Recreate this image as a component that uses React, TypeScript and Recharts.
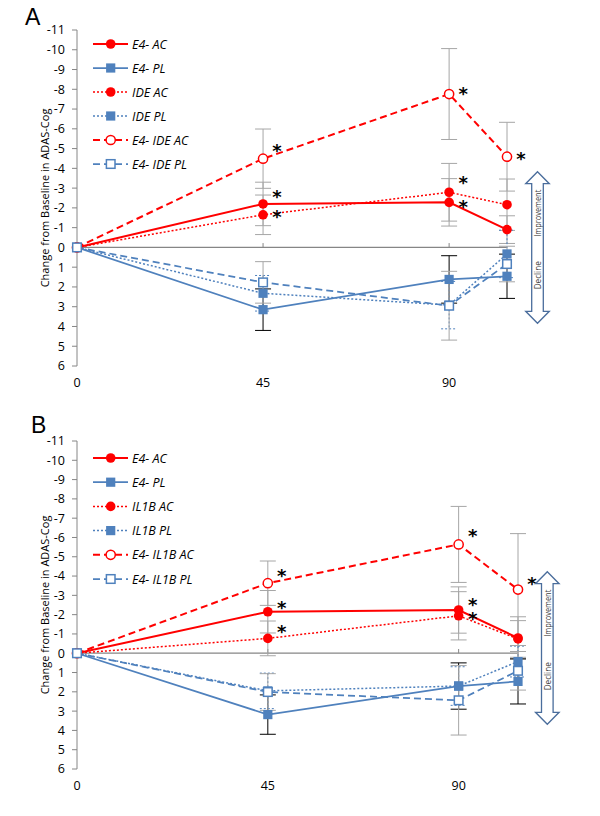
import React from "react";
import { ComposedChart, Line, XAxis, YAxis, ErrorBar, ReferenceLine } from "recharts";

// x positions (weeks) and axis ticks
const WEEKS = [0, 45, 90, 104];
const X_TICKS = [0, 45, 90];
const Y_TICKS = [-11, -10, -9, -8, -7, -6, -5, -4, -3, -2, -1, 0, 1, 2, 3, 4, 5, 6];
const Y_LABEL = "Change from Baseline in ADAS-Cog";

// Panel A values (negative = improvement)
const A_E4_AC = [0, -2.2, -2.28, -0.9];
const A_E4_AC_ERR = [null, 1.1, 1.2, 0.7];
const A_E4_PL = [0, 3.15, 1.62, 1.46];
const A_E4_PL_ERR = [null, 1.05, 1.2, 1.12];
const A_IDE_AC = [0, -1.65, -2.79, -2.16];
const A_IDE_AC_ERR = [null, 1.0, 1.46, 1.3];
const A_IDE_PL = [0, 2.32, 2.92, 0.33];
const A_IDE_PL_ERR = [null, 0.9, 1.2, 1.2];
const A_E4IDE_AC = [0, -4.49, -7.76, -4.59];
const A_E4IDE_AC_ERR = [null, 1.5, 2.3, 1.74];
const A_E4IDE_PL = [0, 1.77, 2.95, 0.84];
const A_E4IDE_PL_ERR = [null, 1.05, 1.74, 0.9];

// Panel B values
const B_E4_AC = [0, -2.15, -2.24, -0.79];
const B_E4_AC_ERR = [null, 1.1, 1.2, 1.1];
const B_E4_PL = [0, 3.18, 1.7, 1.46];
const B_E4_PL_ERR = [null, 1.02, 1.2, 1.17];
const B_IL1B_AC = [0, -0.77, -1.94, -0.74];
const B_IL1B_AC_ERR = [null, 0.9, 1.25, 0.95];
const B_IL1B_PL = [0, 1.95, 1.7, 0.43];
const B_IL1B_PL_ERR = [null, 0.92, 1.0, 0.8];
const B_E4IL1B_AC = [0, -3.63, -5.64, -3.3];
const B_E4IL1B_AC_ERR = [null, 1.15, 1.97, 2.9];
const B_E4IL1B_PL = [0, 2.01, 2.44, 0.91];
const B_E4IL1B_PL_ERR = [null, 0.95, 1.8, 1.0];

// significance marks (1 = asterisk)
const A_E4_AC_SIG = [0, 1, 1, 0];
const A_IDE_AC_SIG = [0, 1, 1, 0];
const A_E4IDE_AC_SIG = [0, 1, 1, 1];
const B_E4_AC_SIG = [0, 1, 1, 0];
const B_IL1B_AC_SIG = [0, 1, 1, 0];
const B_E4IL1B_AC_SIG = [0, 1, 1, 1];

const RED = "#ff0000";
const BLUE = "#4f81bd";
const AXIS_GREY = "#868686";
const ERR_GREY = "#a6a6a6";
const DOTTED = "2 2";
const DASHED = "7 4";

type Series = {
  key: string;
  name: string;
  values: number[];
  errors: (number | null)[];
  color: string;
  width: number;
  dash?: string;
  marker: "circle" | "square";
  open: boolean;
  errColor: string;
  errDash?: string;
  sig?: number[];
  sigDy?: number[];
};

const acStyle = (color: string) => ({ color, marker: "circle" as const });
const plStyle = (color: string) => ({ color, marker: "square" as const });

const seriesA: Series[] = [
  { key: "e4ac", name: "E4- AC", values: A_E4_AC, errors: A_E4_AC_ERR, ...acStyle(RED), width: 2, open: false, errColor: ERR_GREY, sig: A_E4_AC_SIG, sigDy: [0, -11, 1, 0] },
  { key: "e4pl", name: "E4- PL", values: A_E4_PL, errors: A_E4_PL_ERR, ...plStyle(BLUE), width: 1.75, open: false, errColor: "#000" },
  { key: "ac", name: "IDE AC", values: A_IDE_AC, errors: A_IDE_AC_ERR, ...acStyle(RED), width: 1.5, dash: DOTTED, open: false, errColor: ERR_GREY, sig: A_IDE_AC_SIG, sigDy: [0, -2, -13, 0] },
  { key: "pl", name: "IDE PL", values: A_IDE_PL, errors: A_IDE_PL_ERR, ...plStyle(BLUE), width: 1.5, dash: DOTTED, open: false, errColor: BLUE, errDash: DOTTED },
  { key: "e4xac", name: "E4- IDE AC", values: A_E4IDE_AC, errors: A_E4IDE_AC_ERR, ...acStyle(RED), width: 2, dash: DASHED, open: true, errColor: ERR_GREY, sig: A_E4IDE_AC_SIG, sigDy: [0, -12, -4, -2] },
  { key: "e4xpl", name: "E4- IDE PL", values: A_E4IDE_PL, errors: A_E4IDE_PL_ERR, ...plStyle(BLUE), width: 1.75, dash: DASHED, open: true, errColor: ERR_GREY },
];

const seriesB: Series[] = [
  { key: "e4ac", name: "E4- AC", values: B_E4_AC, errors: B_E4_AC_ERR, ...acStyle(RED), width: 2, open: false, errColor: ERR_GREY, sig: B_E4_AC_SIG, sigDy: [0, -8, -9, 0] },
  { key: "e4pl", name: "E4- PL", values: B_E4_PL, errors: B_E4_PL_ERR, ...plStyle(BLUE), width: 1.75, open: false, errColor: "#000" },
  { key: "ac", name: "IL1B AC", values: B_IL1B_AC, errors: B_IL1B_AC_ERR, ...acStyle(RED), width: 1.5, dash: DOTTED, open: false, errColor: ERR_GREY, sig: B_IL1B_AC_SIG, sigDy: [0, -10, -1, 0] },
  { key: "pl", name: "IL1B PL", values: B_IL1B_PL, errors: B_IL1B_PL_ERR, ...plStyle(BLUE), width: 1.5, dash: DOTTED, open: false, errColor: BLUE, errDash: DOTTED },
  { key: "e4xac", name: "E4- IL1B AC", values: B_E4IL1B_AC, errors: B_E4IL1B_AC_ERR, ...acStyle(RED), width: 2, dash: DASHED, open: true, errColor: ERR_GREY, sig: B_E4IL1B_AC_SIG, sigDy: [0, -11, -12, -10] },
  { key: "e4xpl", name: "E4- IL1B PL", values: B_E4IL1B_PL, errors: B_E4IL1B_PL_ERR, ...plStyle(BLUE), width: 1.75, dash: DASHED, open: true, errColor: ERR_GREY },
];

function Marker({ s, cx, cy }: { s: Series; cx: number; cy: number }) {
  const fill = s.open ? "#fff" : s.color;
  const sw = s.open ? 1.5 : 0;
  if (s.marker === "circle") {
    return <circle cx={cx} cy={cy} r={s.open ? 4.6 : 4.8} fill={fill} stroke={s.color} strokeWidth={sw} />;
  }
  const h = s.open ? 4.3 : 4.6;
  return <rect x={cx - h} y={cy - h} width={h * 2} height={h * 2} fill={fill} stroke={s.color} strokeWidth={sw} />;
}

const renderDot = (s: Series) => (p: any) => {
  const { cx, cy, index } = p;
  const k = `${s.key}-${index}`;
  if (cx == null || cy == null) return <g key={k} />;
  const star = s.sig && s.sig[index];
  const dy = (s.sigDy && s.sigDy[index]) || 0;
  return (
    <g key={k}>
      <Marker s={s} cx={cx} cy={cy} />
      {star ? (
        <text
          x={cx + 14}
          y={cy + dy + 10}
          textAnchor="middle"
          fontSize={18}
          fontWeight="bold"
          fontFamily="DejaVu Sans"
          fill="#000"
        >
          *
        </text>
      ) : null}
    </g>
  );
};

function DoubleArrow({ cx, top, bottom }: { cx: number; top: number; bottom: number }) {
  const hw = 11.8;
  const sw = 5.8;
  const hh = 12;
  const d = [
    `M${cx},${top}`,
    `L${cx + hw},${top + hh}`,
    `L${cx + sw},${top + hh}`,
    `L${cx + sw},${bottom - hh}`,
    `L${cx + hw},${bottom - hh}`,
    `L${cx},${bottom}`,
    `L${cx - hw},${bottom - hh}`,
    `L${cx - sw},${bottom - hh}`,
    `L${cx - sw},${top + hh}`,
    `L${cx - hw},${top + hh}`,
    "Z",
  ].join(" ");
  const improveY = top + 41.5;
  const declineY = bottom - 48;
  return (
    <g>
      <path d={d} fill="#fff" stroke="#4a6d9c" strokeWidth={1.3} strokeLinejoin="miter" />
      <text
        x={cx}
        y={improveY}
        transform={`rotate(-90 ${cx} ${improveY})`}
        textAnchor="middle"
        dominantBaseline="central"
        fontSize={9}
        fill="#404040"
        textLength={47}
        lengthAdjust="spacingAndGlyphs"
      >
        Improvement
      </text>
      <text
        x={cx}
        y={declineY}
        transform={`rotate(-90 ${cx} ${declineY})`}
        textAnchor="middle"
        dominantBaseline="central"
        fontSize={9}
        fill="#404040"
        textLength={28}
        lengthAdjust="spacingAndGlyphs"
      >
        Decline
      </text>
    </g>
  );
}

type PanelProps = {
  letter: string;
  letterX: number;
  series: Series[];
  margin: { top: number; right: number; bottom: number; left: number };
  legendTop: number;
  legendStep: number;
  arrow: { cx: number; top: number; bottom: number };
};

function Panel({ letter, letterX, series, margin, legendTop, legendStep, arrow }: PanelProps) {
  const data = WEEKS.map((w, i) => {
    const row: Record<string, number | null> = { week: w };
    series.forEach((s) => {
      row[s.key] = s.values[i];
      row[s.key + "Err"] = s.errors[i];
    });
    return row;
  });

  return (
    <div style={{ position: "relative", width: 600, height: 408 }}>
      <ComposedChart width={600} height={408} data={data} margin={margin}>
        <XAxis
          dataKey="week"
          type="number"
          domain={[0, 104]}
          ticks={X_TICKS}
          axisLine={false}
          tickLine={false}
          tickMargin={6}
          height={30}
          tick={{ fontSize: 12.5, fill: "#000" }}
        />
        <YAxis
          type="number"
          domain={[-11, 6]}
          ticks={Y_TICKS}
          interval={0}
          reversed
          width={64}
          stroke={AXIS_GREY}
          tickSize={5}
          tickMargin={7}
          tick={{ fontSize: 12.5, fill: "#000" }}
          label={{ value: Y_LABEL, angle: -90, position: "center", style: { fontSize: 11, fill: "#000" } }}
        />
        <ReferenceLine y={0} stroke={AXIS_GREY} strokeWidth={1.25} />
        {X_TICKS.slice(1).map((t) => (
          <ReferenceLine
            key={`tick-${t}`}
            segment={[
              { x: t, y: 0 },
              { x: t, y: -0.22 },
            ]}
            stroke={AXIS_GREY}
          />
        ))}
        {series.map((s) => (
          <Line
            key={s.key}
            dataKey={s.key}
            name={s.name}
            type="linear"
            stroke={s.color}
            strokeWidth={s.width}
            strokeDasharray={s.dash}
            dot={renderDot(s)}
            activeDot={false}
            isAnimationActive={false}
          >
            <ErrorBar
              dataKey={s.key + "Err"}
              width={8}
              stroke={s.errColor}
              strokeWidth={1}
              strokeDasharray={s.errDash}
              direction="y"
            />
          </Line>
        ))}
      </ComposedChart>
      <svg
        width={600}
        height={408}
        style={{ position: "absolute", left: 0, top: 0, pointerEvents: "none" }}
      >
        <text x={letterX} y={24.5} fontSize={23} fontFamily="Liberation Sans, Arial, sans-serif" fill="#000">
          {letter}
        </text>
        {series.map((s, i) => {
          const y = legendTop + i * legendStep;
          return (
            <g key={`lg-${s.key}`}>
              <line x1={93} x2={128} y1={y} y2={y} stroke={s.color} strokeWidth={s.width} strokeDasharray={s.dash} />
              <Marker s={s} cx={110.7} cy={y} />
              <text
                x={132}
                y={y}
                dominantBaseline="central"
                fontSize={12.5}
                fontStyle="italic"
                fontFamily="'Open Sans', sans-serif"
                fill="#000"
              >
                {s.name}
              </text>
            </g>
          );
        })}
        <DoubleArrow cx={arrow.cx} top={arrow.top} bottom={arrow.bottom} />
      </svg>
    </div>
  );
}

export default function App() {
  return (
    <div style={{ width: 600, height: 816, background: "#fff", fontFamily: "'Open Sans', sans-serif" }}>
      <style>{`body{margin:0}`}</style>
      <Panel
        letter="A"
        letterX={25}
        series={seriesA}
        margin={{ top: 30, right: 93, bottom: 12, left: 13 }}
        legendTop={44}
        legendStep={24}
        arrow={{ cx: 537.5, top: 171.7, bottom: 323.3 }}
      />
      <Panel
        letter="B"
        letterX={31}
        series={seriesB}
        margin={{ top: 33, right: 82, bottom: 17, left: 13 }}
        legendTop={50}
        legendStep={24.2}
        arrow={{ cx: 547.3, top: 163.7, bottom: 316.3 }}
      />
    </div>
  );
}
